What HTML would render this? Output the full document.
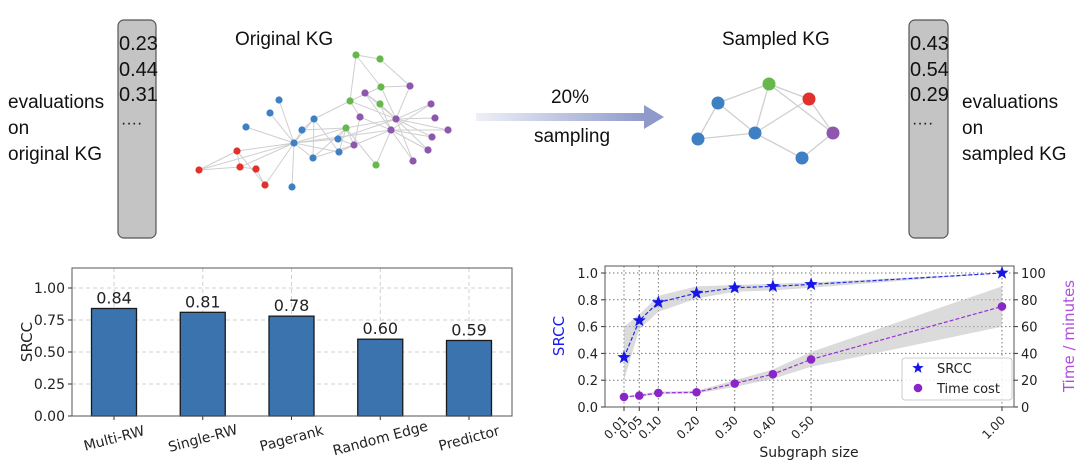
<!DOCTYPE html>
<html><head><meta charset="utf-8">
<style>
html,body{margin:0;padding:0;background:#fff;}
svg{display:block;font-family:"Liberation Sans","DejaVu Sans",sans-serif;}
.t{font-size:19px;fill:#111;}
.mp{font-family:"DejaVu Sans","Liberation Sans",sans-serif;}
</style></head>
<body>
<svg id="fig" width="1080" height="474" viewBox="0 0 1080 474" xmlns="http://www.w3.org/2000/svg">
<defs>
<linearGradient id="arrowGrad" x1="0" x2="1" y1="0" y2="0">
<stop offset="0" stop-color="#eef0f7"/><stop offset="1" stop-color="#8f9acb"/>
</linearGradient>
</defs>
<g>
<text class="t" x="8" y="108">evaluations</text>
<text class="t" x="8" y="134">on</text>
<text class="t" x="8" y="160">original KG</text>
<rect x="118" y="20" width="38" height="218" rx="6" fill="#c4c4c4" stroke="#555" stroke-width="1.2"/>
<text class="t" x="119" y="50" style="font-size:20px">0.23</text>
<text class="t" x="119" y="76" style="font-size:20px">0.44</text>
<text class="t" x="119" y="101" style="font-size:20px">0.31</text>
<text class="t" x="121" y="128" style="font-size:16px">····</text>
</g>
<g>
<rect x="909" y="20" width="39" height="218" rx="6" fill="#c4c4c4" stroke="#555" stroke-width="1.2"/>
<text class="t" x="910" y="50" style="font-size:20px">0.43</text>
<text class="t" x="910" y="76" style="font-size:20px">0.54</text>
<text class="t" x="910" y="101" style="font-size:20px">0.29</text>
<text class="t" x="912" y="128" style="font-size:16px">····</text>
<text class="t" x="962" y="108">evaluations</text>
<text class="t" x="962" y="134">on</text>
<text class="t" x="962" y="160">sampled KG</text>
</g>
<text class="t" x="235" y="45">Original KG</text>
<text class="t" x="722" y="45">Sampled KG</text>
<g id="origGraph"></g>
<g id="sampGraph"></g>
<g>
<rect x="476" y="113" width="170" height="8" fill="url(#arrowGrad)"/>
<polygon points="644,105 664,117 644,129" fill="#8f9acb"/>
<text class="t" x="570" y="103" text-anchor="middle">20%</text>
<text class="t" x="572" y="142" text-anchor="middle">sampling</text>
</g>
<g id="barChart"></g>
<g id="lineChart"></g>
</svg>
<script>
const NS="http://www.w3.org/2000/svg";
function mk(tag,attrs,parent,text){const e=document.createElementNS(NS,tag);for(const k in attrs)e.setAttribute(k,attrs[k]);if(text!==undefined)e.textContent=text;parent.appendChild(e);return e;}

// ---- bar chart data ----
const barCategories=["Multi-RW","Single-RW","Pagerank","Random Edge","Predictor"];
const barValues=[0.84,0.81,0.78,0.60,0.59];
const barLabels=["0.84","0.81","0.78","0.60","0.59"];
const barTicks=[0,0.25,0.5,0.75,1.0];
const barTickLabels=["0.00","0.25","0.50","0.75","1.00"];

// ---- line chart data ----
const sizes=[0.01,0.05,0.10,0.20,0.30,0.40,0.50,1.00];
const sizeLabels=["0.01","0.05","0.10","0.20","0.30","0.40","0.50","1.00"];
const srcc=[0.37,0.645,0.78,0.85,0.89,0.90,0.915,1.0];
const srccLow=[0.20,0.58,0.71,0.81,0.86,0.87,0.89,1.0];
const srccHigh=[0.60,0.69,0.83,0.90,0.91,0.92,0.93,1.0];
const timeCost=[7.5,8.5,10.5,11,17.5,24.5,35.5,75];
const timeLow=[7,7.5,9.5,10,15,21,30,60];
const timeHigh=[8,9.5,11.5,12,20,28,41,90];
const leftTicks=[0,0.2,0.4,0.6,0.8,1.0];
const leftTickLabels=["0.0","0.2","0.4","0.6","0.8","1.0"];
const rightTicks=[0,20,40,60,80,100];

// ---- graph data ----
const origNodes=[
[199,170,"r"],[237,151,"r"],[240,167,"r"],[256,169,"r"],[265,185,"r"],
[279,100,"b"],[270,113,"b"],[246,127,"b"],[314,119,"b"],[302,130,"b"],[294,143,"b"],[338,139,"b"],[339,152,"b"],[313,158,"b"],[292,187,"b"],
[356,55,"g"],[380,59,"g"],[381,87,"g"],[350,101,"g"],[380,104,"g"],[346,128,"g"],[376,165,"g"],
[365,93,"p"],[410,86,"p"],[431,104,"p"],[360,117,"p"],[396,119,"p"],[435,118,"p"],[391,130,"p"],[448,130,"p"],[432,137,"p"],[354,145,"p"],[428,150,"p"],[413,161,"p"]];
const origEdges=[[0,1],[0,2],[1,2],[1,4],[2,3],[3,4],[1,10],[2,10],[4,10],[0,10],[5,10],[6,10],[7,10],[8,10],[9,10],[10,11],[10,12],[10,13],[10,14],[8,13],[8,12],[8,9],[8,18],[9,20],[11,20],[12,20],[13,20],[10,20],[10,28],[11,26],[20,21],[20,26],[20,31],[15,16],[15,18],[15,17],[16,23],[17,23],[17,26],[18,26],[18,25],[19,26],[19,28],[22,26],[22,28],[23,26],[24,26],[24,28],[25,28],[26,27],[26,29],[26,30],[26,32],[28,29],[28,30],[28,32],[28,33],[26,33],[25,31],[31,28],[19,22],[17,18],[11,31],[12,31],[21,28],[13,31]];
const sampNodes=[[769,84,"g"],[718,103,"b"],[809,99,"r"],[755,133,"b"],[833,133,"p"],[698,139,"b"],[802,158,"b"]];
const sampEdges=[[1,0],[0,3],[0,2],[0,4],[1,3],[5,3],[3,2],[2,4],[4,6],[1,5],[3,6]];
const colors={r:"#e0322a",b:"#3f7fc4",g:"#67b84a",p:"#8e56ad"};

function drawGraph(g,nodes,edges,r,sw){
 edges.forEach(e=>{const a=nodes[e[0]],b=nodes[e[1]];
  const l=mk("line",{x1:a[0],y1:a[1],x2:b[0],y2:b[1],stroke:"#cfcfcf","stroke-width":sw},g);
  
  });
 nodes.forEach(n=>{const c=mk("circle",{cx:n[0],cy:n[1],r:r,fill:colors[n[2]]},g);
  
  });
}
drawGraph(document.getElementById("origGraph"),origNodes,origEdges,3.6,1);
drawGraph(document.getElementById("sampGraph"),sampNodes,sampEdges,6.5,1.3);

// ---- bar chart ----
(function(){
 const g=document.getElementById("barChart");
 const L=72,R=512,T=268,B=416;
 const y=v=>B-v*128;
 const x=i=>114+i*88.75;
 barTicks.forEach((t,i)=>{
  mk("line",{x1:L,x2:R,y1:y(t),y2:y(t),stroke:"#d0d0d0","stroke-dasharray":"4,3","stroke-width":1},g);
  mk("line",{x1:L-4,x2:L,y1:y(t),y2:y(t),stroke:"#333"},g);
  const tl=mk("text",{x:L-7,y:y(t)+5,"text-anchor":"end","font-size":14,fill:"#222",class:"mp"},g,barTickLabels[i]);
  
  
 });
 barCategories.forEach((c,i)=>{mk("line",{x1:x(i),x2:x(i),y1:T,y2:B,stroke:"#d0d0d0","stroke-dasharray":"4,3"},g);});
 barCategories.forEach((c,i)=>{
  const v=barValues[i];
  const b=mk("rect",{x:x(i)-22.5,y:y(v),width:45,height:B-y(v),fill:"#3a73ae",stroke:"#1a1a1a","stroke-width":1.3},g);
  
  
  const vl=mk("text",{x:x(i),y:y(v)-5,"text-anchor":"middle","font-size":16,fill:"#222",class:"mp"},g,barLabels[i]);
  
  
  mk("line",{x1:x(i),x2:x(i),y1:B,y2:B+4,stroke:"#333"},g);
  const cl=mk("text",{x:x(i),y:443,"text-anchor":"middle","font-size":14,fill:"#222",class:"mp",transform:`rotate(-15 ${x(i)} 438)`},g,c);
  
  
 });
 mk("rect",{x:L,y:T,width:R-L,height:B-T,fill:"none",stroke:"#555","stroke-width":1},g);
 const yt=mk("text",{x:32,y:342,"text-anchor":"middle","font-size":15,fill:"#222",class:"mp",transform:"rotate(-90 32 342)"},g,"SRCC");
 
 
})();

// ---- line chart ----
(function(){
 const g=document.getElementById("lineChart");
 const L=605,R=1014,T=266,B=407;
 const x=v=>624+(v-0.01)*381.8;
 const yl=v=>B-v*134;
 const yr=v=>B-v*1.34;
 leftTicks.forEach((t,i)=>{
  mk("line",{x1:L,x2:R,y1:yl(t),y2:yl(t),stroke:"#777","stroke-dasharray":"1.5,2.5","stroke-width":1},g);
  mk("line",{x1:L-4,x2:L,y1:yl(t),y2:yl(t),stroke:"#333"},g);
  const tl=mk("text",{x:L-7,y:yl(t)+5,"text-anchor":"end","font-size":13,fill:"#222",class:"mp"},g,leftTickLabels[i]);
  
  
 });
 rightTicks.forEach(t=>{
  mk("line",{x1:R,x2:R+4,y1:yr(t),y2:yr(t),stroke:"#333"},g);
  const tl=mk("text",{x:R+7,y:yr(t)+5,"font-size":13,fill:"#222",class:"mp"},g,String(t));
  
  
 });
 sizes.forEach((s,i)=>{
  mk("line",{x1:x(s),x2:x(s),y1:T,y2:B,stroke:"#777","stroke-dasharray":"1.5,2.5"},g);
  mk("line",{x1:x(s),x2:x(s),y1:B,y2:B+4,stroke:"#333"},g);
  const tl=mk("text",{x:x(s)+4,y:B+14,"text-anchor":"end","font-size":12,fill:"#222",class:"mp",transform:`rotate(-45 ${x(s)+4} ${B+14})`},g,sizeLabels[i]);
  
  
 });
 function band(lo,hi,yf,name){
  let d="M"+sizes.map((s,i)=>x(s)+","+yf(hi[i])).join("L");
  d+="L"+sizes.slice().reverse().map((s,j)=>{const i=sizes.length-1-j;return x(s)+","+yf(lo[i]);}).join("L")+"Z";
  const p=mk("path",{d:d,fill:"#bdbdbd","fill-opacity":0.55,stroke:"none"},g);
  
  
 }
 band(srccLow,srccHigh,yl,'srcc-confidence-band');
 band(timeLow,timeHigh,yr,'time-confidence-band');
 const tp=mk("polyline",{points:sizes.map((s,i)=>x(s)+","+yr(timeCost[i])).join(" "),fill:"none",stroke:"#9b30d8","stroke-width":1.2,"stroke-dasharray":"4,2"},g);
 
 
 const sp=mk("polyline",{points:sizes.map((s,i)=>x(s)+","+yl(srcc[i])).join(" "),fill:"none",stroke:"#1f2cf0","stroke-width":1.2,"stroke-dasharray":"4,2"},g);
 
 
 function star(cx,cy,r){let p=[];for(let k=0;k<10;k++){const a=-Math.PI/2+k*Math.PI/5;const rr=k%2?r*0.42:r;p.push((cx+rr*Math.cos(a)).toFixed(1)+","+(cy+rr*Math.sin(a)).toFixed(1));}return p.join(" ");}
 sizes.forEach((s,i)=>{
  const c=mk("circle",{cx:x(s),cy:yr(timeCost[i]),r:4.3,fill:"#8a26c8"},g);
  
  
  const st=mk("polygon",{points:star(x(s),yl(srcc[i]),7),fill:"#1616e6"},g);
  
  
 });
 mk("rect",{x:L,y:T,width:R-L,height:B-T,fill:"none",stroke:"#555"},g);
 const lg=mk("g",{},g);
 
 
 mk("rect",{x:902,y:358,width:110,height:42,rx:3,fill:"#fff","fill-opacity":0.85,stroke:"#ccc"},lg);
 mk("polygon",{points:star(918,368,6),fill:"#1616e6"},lg);
 mk("text",{x:937,y:373,"font-size":13,fill:"#222",class:"mp"},lg,"SRCC");
 mk("circle",{cx:918,cy:388,r:4.3,fill:"#8a26c8"},lg);
 mk("text",{x:937,y:393,"font-size":13,fill:"#222",class:"mp"},lg,"Time cost");
 const xt=mk("text",{x:809,y:457,"text-anchor":"middle","font-size":14,fill:"#222",class:"mp"},g,"Subgraph size");
 
 
 const ylt=mk("text",{x:564,y:336,"text-anchor":"middle","font-size":15,fill:"#1a1af0",class:"mp",transform:"rotate(-90 564 336)"},g,"SRCC");
 
 
 const yrt=mk("text",{x:1074,y:336,"text-anchor":"middle","font-size":15,fill:"#b04ee0",class:"mp",transform:"rotate(-90 1074 336)"},g,"Time / minutes");
 
 
})();
</script>
</body></html>
